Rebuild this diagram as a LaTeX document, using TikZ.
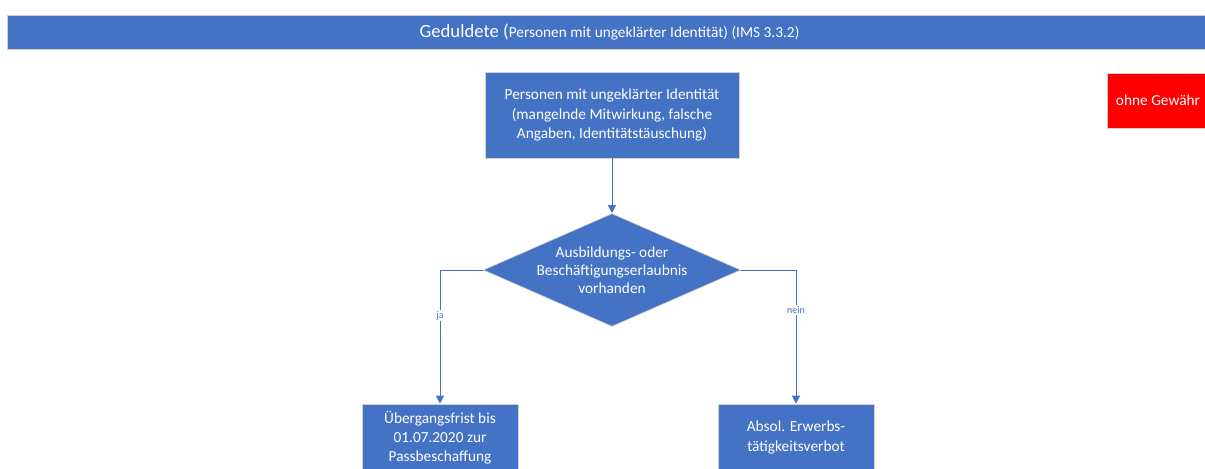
\documentclass[tikz,border=0pt]{standalone}
\usepackage{fontspec}
\setmainfont{Carlito}
\usetikzlibrary{shapes.geometric,arrows.meta}
\definecolor{msblue}{HTML}{4472C4}
\definecolor{msred}{HTML}{FF0000}

\begin{document}
\begin{tikzpicture}[x=0.75pt,y=-0.75pt,
	box/.style={rectangle, draw=gray!35, line width=0.5pt, fill=msblue, text=white, align=center, inner sep=0pt, font=\fontsize{11.5}{14.5}\selectfont},
	conn/.style={draw=msblue, line width=0.75pt, -{Triangle[length=6pt,width=6pt]}},
	lbl/.style={fill=white, text=msblue, inner sep=1pt, font=\fontsize{7.5}{9}\selectfont}]
	\useasboundingbox (0,0) rectangle (1205,468);
	% Kopfzeile
	\node[box, minimum width=903.75pt, minimum height=25.5pt] (title) at (609.5,32) {{\fontsize{14}{16}\selectfont Geduldete (}Personen mit ungeklärter Identität) (IMS 3.3.2)};
	\node[box, fill=msred, minimum width=76.5pt, minimum height=41.25pt] (hint) at (1158,100.5) {ohne Gewähr};
	% Ablauf
	\node[box, minimum width=190.5pt, minimum height=64.5pt] (p1) at (612,115) {Personen mit ungeklärter Identität\\(mangelnde Mitwirkung, falsche\\Angaben, Identitätstäuschung)};
	\node[box, shape=diamond, aspect=2.28, minimum width=188.25pt, minimum height=82.5pt, font=\fontsize{11.5}{13.5}\selectfont] (d1) at (612,270) {Ausbildungs- oder\\Beschäftigungserlaubnis\\vorhanden};
	\node[box, minimum width=117pt, minimum height=50.25pt] (b1) at (440,437.5) {Übergangsfrist bis\\01.07.2020 zur\\Passbeschaffung};
	\node[box, minimum width=117pt, minimum height=50.25pt] (b2) at (796,437.5) {Absol. Erwerbs-\\tätigkeitsverbot};
	\draw[conn] (p1) -- (d1);
	\draw[conn] (d1.west) -| node[lbl, pos=0.67] {ja} (b1.north);
	\draw[conn] (d1.east) -| node[lbl, pos=0.65] {nein} (b2.north);
\end{tikzpicture}
\end{document}
